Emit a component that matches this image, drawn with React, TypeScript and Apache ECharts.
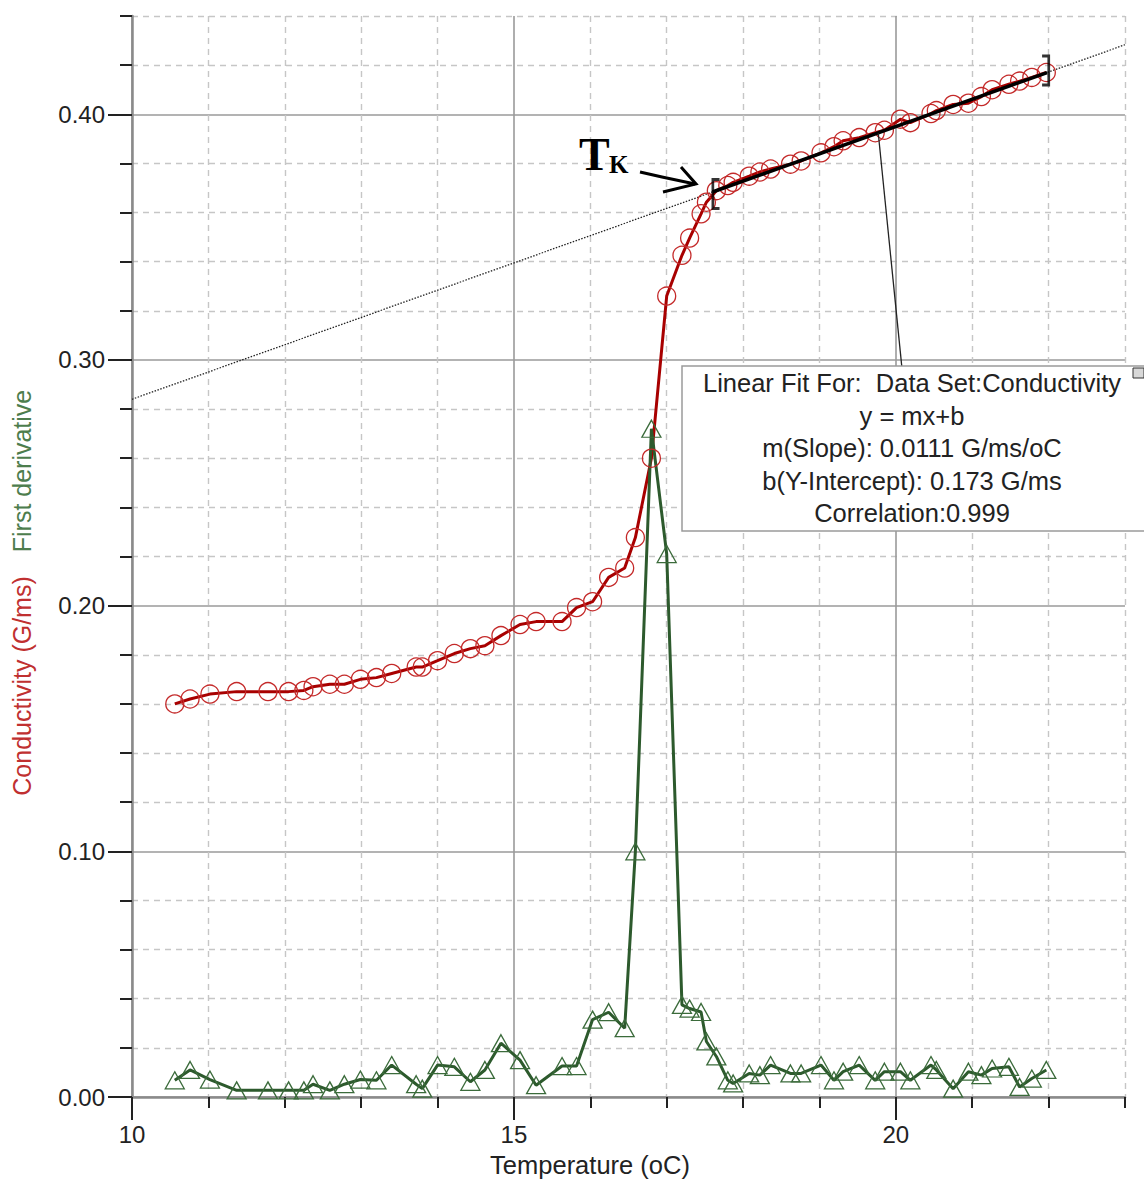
import React, { useEffect, useRef } from 'react';
import * as echarts from 'echarts';

// ---------- data ----------
const temperature = [
  10.56, 10.76, 11.02, 11.37, 11.78, 12.05, 12.25, 12.37, 12.59, 12.78,
  12.99, 13.2, 13.4, 13.72, 13.8, 14.0, 14.22, 14.43, 14.62, 14.83,
  15.08, 15.29, 15.63, 15.82, 16.03, 16.24, 16.45, 16.59, 16.8, 17.0,
  17.2, 17.3, 17.45, 17.52, 17.65, 17.8, 17.87, 18.08, 18.22, 18.36,
  18.62, 18.76, 19.02, 19.19, 19.31, 19.52, 19.73, 19.85, 20.06, 20.19,
  20.46, 20.53, 20.75, 20.95, 21.12, 21.26, 21.48, 21.62, 21.78, 21.97,
];
const conductivity = [
  0.160, 0.162, 0.164, 0.165, 0.165, 0.165, 0.1655, 0.167, 0.168, 0.168,
  0.170, 0.1707, 0.1724, 0.175, 0.175, 0.1776, 0.1805, 0.1825, 0.1837, 0.1878,
  0.1923, 0.1935, 0.1935, 0.1992, 0.2016, 0.2115, 0.2153, 0.2277, 0.260, 0.326,
  0.3426, 0.3496, 0.3595, 0.3642, 0.3689, 0.371, 0.3723, 0.3748, 0.3765, 0.3777,
  0.3797, 0.381, 0.3843, 0.3868, 0.3892, 0.3905, 0.3925, 0.3935, 0.398, 0.3966,
  0.4003, 0.4015, 0.404, 0.4045, 0.4072, 0.41, 0.4122, 0.4135, 0.415, 0.417,
];
const firstDerivative = [
  0.0068, 0.011, 0.0071, 0.0027, 0.0027, 0.0027, 0.0027, 0.0052, 0.0027, 0.0052,
  0.0071, 0.0068, 0.013, 0.0052, 0.0034, 0.013, 0.0123, 0.0062, 0.011, 0.0219,
  0.015, 0.0048, 0.0126, 0.0126, 0.0315, 0.0345, 0.028, 0.100, 0.272, 0.221,
  0.0375, 0.036, 0.0346, 0.0226, 0.0165, 0.0068, 0.0055, 0.0096, 0.0089, 0.013,
  0.0096, 0.0096, 0.013, 0.0068, 0.0103, 0.013, 0.0068, 0.0103, 0.0103, 0.0068,
  0.013, 0.011, 0.0034, 0.0103, 0.0089, 0.0116, 0.0123, 0.0041, 0.0075, 0.011,
];
const xMajorTicks = [10, 15, 20];
const yMajorTicks = [0, 0.1, 0.2, 0.3, 0.4];
const xRange = [10, 23];
const yRange = [0, 0.44];
const fitSlope = 0.0111;
const fitIntercept = 0.173;
const fitRange = [17.6, 21.98];
const leaderLine = [[19.77, 0.3923], [20.08, 0.2967]];
const fitBoxLines = [
  'Linear Fit For:  Data Set:Conductivity',
  'y = mx+b',
  'm(Slope): 0.0111 G/ms/oC',
  'b(Y-Intercept): 0.173 G/ms',
  'Correlation:0.999',
];
const xTitle = 'Temperature (oC)';
const yTitleRed = 'Conductivity (G/ms)';
const yTitleGreen = 'First derivative';

// ---------- styles ----------
const FONT = '"Liberation Sans", Arial, sans-serif';
const MAJOR = '#9a9a9a';
const MINOR = '#c6c6c6';
const NONE = 'rgba(0,0,0,0)';
const RED_LINE = '#a80000';
const RED_MARK = '#c42a2a';
const GREEN_LINE = '#2d5a2d';
const GREEN_MARK = '#3b6b3b';

const fit = (t: number) => fitSlope * t + fitIntercept;

export default function App() {
  const ref = useRef<HTMLDivElement>(null);
  useEffect(() => {
    if (!ref.current) return;
    const chart = echarts.init(ref.current, undefined, { renderer: 'svg' });

    const minorColorsX = [NONE, MINOR, MINOR, MINOR, MINOR];
    const minorColorsY = [NONE, MINOR, MINOR, MINOR, MINOR];
    const majorColorsX = [MAJOR, MAJOR, MAJOR, NONE];
    const majorColorsY = [MAJOR, MAJOR, MAJOR, MAJOR, MAJOR, NONE];

    const boxX = 682;
    const boxY = 366;
    const lineGap = 32.5;

    const option: any = {
      animation: false,
      grid: { left: 132, top: 16, right: 19, bottom: 85, containLabel: false },
      xAxis: [
        {
          type: 'value', position: 'bottom', min: xRange[0], max: xRange[1], interval: 1,
          axisLine: { show: true, onZero: false, lineStyle: { color: '#8a8a8a', width: 2.5 } },
          axisTick: { show: true, length: 11, lineStyle: { color: '#222', width: 2 } },
          axisLabel: { show: false },
          splitLine: { show: true, lineStyle: { color: minorColorsX, width: 1.4, type: [6, 5] } },
        },
        {
          type: 'value', position: 'bottom', min: xRange[0], max: xRange[1], interval: 5,
          axisLine: { show: false, onZero: false },
          axisTick: { show: true, length: 23, customValues: xMajorTicks, lineStyle: { color: '#222', width: 2 } },
          axisLabel: {
            show: true, customValues: xMajorTicks, margin: 25, fontSize: 24, fontFamily: FONT, color: '#222',
            formatter: (v: number) => (xMajorTicks.indexOf(v) >= 0 ? String(v) : ''),
          },
          splitLine: { show: true, lineStyle: { color: majorColorsX, width: 1.6 } },
        },
      ],
      yAxis: [
        {
          type: 'value', position: 'left', min: yRange[0], max: yRange[1], interval: 0.02,
          axisLine: { show: true, onZero: false, lineStyle: { color: '#8a8a8a', width: 2.5 } },
          axisTick: { show: true, length: 12, lineStyle: { color: '#222', width: 2 } },
          axisLabel: { show: false },
          splitLine: { show: true, lineStyle: { color: minorColorsY, width: 1.4, type: [6, 5] } },
        },
        {
          type: 'value', position: 'left', min: yRange[0], max: yRange[1], interval: 0.1,
          axisLine: { show: false, onZero: false },
          axisTick: { show: true, length: 24, customValues: yMajorTicks, lineStyle: { color: '#222', width: 2 } },
          axisLabel: {
            show: true, customValues: yMajorTicks, margin: 27, fontSize: 24, fontFamily: FONT, color: '#222',
            formatter: (v: number) => (Math.abs(v * 10 - Math.round(v * 10)) < 1e-6 ? v.toFixed(2) : ''),
          },
          splitLine: { show: true, lineStyle: { color: majorColorsY, width: 1.6 } },
        },
      ],
      series: [
        {
          name: 'fit-dotted', type: 'line', xAxisIndex: 0, yAxisIndex: 0, z: 2, silent: true,
          showSymbol: false, symbol: 'none',
          data: [[xRange[0], fit(xRange[0])], [xRange[1], fit(xRange[1])]],
          lineStyle: { color: '#222', width: 1.3, type: [1.5, 1.5] },
        },
        {
          name: 'Conductivity', type: 'line', xAxisIndex: 0, yAxisIndex: 0, z: 3, silent: true,
          data: temperature.map((t, i) => [t, conductivity[i]]),
          symbol: 'circle', symbolSize: 18, showSymbol: true, showAllSymbol: true,
          itemStyle: { color: NONE, borderColor: RED_MARK, borderWidth: 1.3 },
          lineStyle: { color: RED_LINE, width: 3 },
        },
        {
          name: 'First derivative', type: 'line', xAxisIndex: 0, yAxisIndex: 0, z: 3, silent: true,
          data: temperature.map((t, i) => [t, firstDerivative[i]]),
          symbol: 'triangle', symbolSize: [19, 17], showSymbol: true, showAllSymbol: true,
          itemStyle: { color: NONE, borderColor: GREEN_MARK, borderWidth: 1.3 },
          lineStyle: { color: GREEN_LINE, width: 3 },
        },
        {
          name: 'fit-segment', type: 'line', xAxisIndex: 0, yAxisIndex: 0, z: 4, silent: true,
          showSymbol: false, symbol: 'none',
          data: [[fitRange[0], fit(fitRange[0])], [fitRange[1], fit(fitRange[1])]],
          lineStyle: { color: '#000', width: 3.5 },
        },
        {
          name: 'fit-brackets', type: 'scatter', xAxisIndex: 0, yAxisIndex: 0, z: 5, silent: true,
          itemStyle: { color: '#000' },
          data: [
            {
              value: [fitRange[0], fit(fitRange[0])],
              symbol: 'path://M0,0 L9,0 L9,3 L3,3 L3,29 L9,29 L9,32 L0,32 Z',
              symbolSize: [8, 32], symbolOffset: [3, 2],
            },
            {
              value: [fitRange[1], fit(fitRange[1])],
              symbol: 'path://M0,0 L9,0 L9,32 L0,32 L0,29 L6,29 L6,3 L0,3 Z',
              symbolSize: [8, 32], symbolOffset: [-1, -2],
            },
          ],
        },
        {
          name: 'leader', type: 'line', xAxisIndex: 0, yAxisIndex: 0, z: 4, silent: true,
          showSymbol: false, symbol: 'none',
          data: leaderLine,
          lineStyle: { color: '#222', width: 1.3 },
        },
      ],
      graphic: [
        {
          type: 'text', x: 22, y: 686, rotation: Math.PI / 2, z: 10,
          style: { text: yTitleRed, font: `25px ${FONT}`, fill: '#c03030', align: 'center', verticalAlign: 'middle', textAlign: 'center', textVerticalAlign: 'middle' },
        },
        {
          type: 'text', x: 22, y: 471, rotation: Math.PI / 2, z: 10,
          style: { text: yTitleGreen, font: `25px ${FONT}`, fill: '#4d7d4d', align: 'center', verticalAlign: 'middle', textAlign: 'center', textVerticalAlign: 'middle' },
        },
        {
          type: 'text', x: 590, y: 1165, z: 10,
          style: { text: xTitle, font: `25.5px ${FONT}`, fill: '#222', align: 'center', verticalAlign: 'middle', textAlign: 'center', textVerticalAlign: 'middle' },
        },
        {
          type: 'text', x: 579, y: 154, z: 10,
          style: { text: 'T', font: `bold 46px "Liberation Serif", "Times New Roman", serif`, fill: '#000', align: 'left', verticalAlign: 'middle', textAlign: 'left', textVerticalAlign: 'middle' },
        },
        {
          type: 'text', x: 609, y: 164, z: 10,
          style: { text: 'K', font: `bold 25px "Liberation Serif", "Times New Roman", serif`, fill: '#000', align: 'left', verticalAlign: 'middle', textAlign: 'left', textVerticalAlign: 'middle' },
        },
        {
          type: 'polyline', z: 10,
          shape: { points: [[640, 172], [662, 177], [695, 184]] },
          style: { stroke: '#000', lineWidth: 3, fill: null },
        },
        {
          type: 'polyline', z: 10,
          shape: { points: [[681, 167], [696, 184], [663, 192]] },
          style: { stroke: '#000', lineWidth: 3, fill: null },
        },
        {
          type: 'rect', z: 20,
          shape: { x: boxX, y: boxY, width: 480, height: 165 },
          style: { fill: '#fff', stroke: '#9a9a9a', lineWidth: 1.5 },
        },
        {
          type: 'rect', z: 21,
          shape: { x: 1133, y: 368, width: 11, height: 10 },
          style: { fill: '#d8d8d8', stroke: '#333', lineWidth: 1 },
        },
        ...fitBoxLines.map((txt, i) => ({
          type: 'text', x: 912, y: boxY + 17 + i * lineGap, z: 22,
          style: { text: txt, font: `25.5px ${FONT}`, fill: '#222', align: 'center', verticalAlign: 'middle', textAlign: 'center', textVerticalAlign: 'middle' },
        })),
      ],
    };
    chart.setOption(option);
    return () => chart.dispose();
  }, []);

  return (
    <div
      ref={ref}
      style={{ position: 'absolute', left: 0, top: 0, width: 1144, height: 1182, background: '#fff' }}
    />
  );
}
